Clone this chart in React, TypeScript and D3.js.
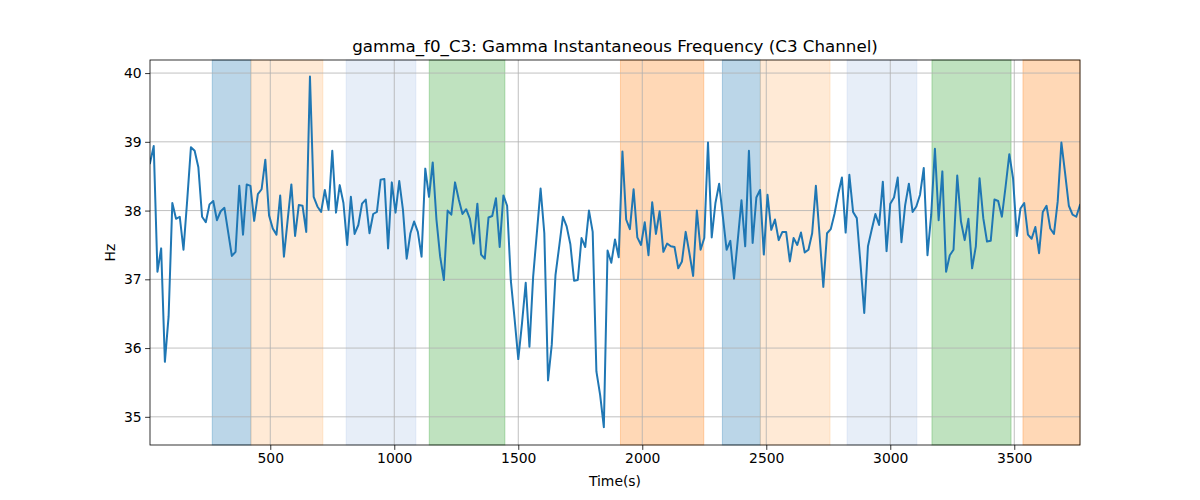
import React, { useEffect, useRef } from 'react';
import * as d3 from 'd3';

// sample times (s), one every 15 s
const times: number[] = d3.range(15, 3766, 15);

// gamma instantaneous frequency (Hz)
const freq: number[] = [
  38.69, 38.94, 37.11, 37.45, 35.80, 36.46, 38.11, 37.88, 37.91, 37.43,
  38.15, 38.92, 38.87, 38.63, 37.91, 37.83, 38.09, 38.14, 37.86, 37.99,
  38.04, 37.69, 37.34, 37.40, 38.36, 37.65, 38.38, 38.36, 37.85, 38.24,
  38.31, 38.74, 37.93, 37.74, 37.65, 38.22, 37.33, 37.86, 38.38, 37.63,
  38.08, 38.07, 37.69, 39.95, 38.20, 38.06, 37.98, 38.30, 38.01, 38.87,
  37.97, 38.37, 38.11, 37.50, 38.20, 37.66, 37.79, 38.10, 38.16, 37.67,
  37.95, 37.98, 38.45, 38.46, 37.45, 38.41, 37.97, 38.43, 38.01, 37.30,
  37.67, 37.84, 37.69, 37.33, 38.61, 38.20, 38.70, 37.87, 37.33, 36.99,
  38.00, 37.94, 38.41, 38.16, 37.95, 38.02, 37.88, 37.52, 38.10, 37.36,
  37.30, 37.90, 37.92, 38.18, 37.47, 38.22, 38.07, 36.98, 36.43, 35.84,
  36.36, 36.95, 36.02, 37.04, 37.68, 38.32, 37.67, 35.53, 36.05, 37.06,
  37.48, 37.91, 37.77, 37.51, 36.98, 36.99, 37.60, 37.47, 38.00, 37.69,
  35.66, 35.32, 34.85, 37.42, 37.24, 37.58, 37.32, 38.86, 37.87, 37.73,
  38.31, 37.61, 37.50, 37.83, 37.35, 38.12, 37.66, 37.99, 37.40, 37.52,
  37.48, 37.47, 37.16, 37.26, 37.69, 37.38, 37.05, 38.00, 37.43, 37.60,
  38.99, 37.61, 38.11, 38.39, 37.91, 37.43, 37.56, 37.01, 37.57, 38.15,
  37.48, 38.87, 37.53, 38.19, 38.30, 37.36, 38.23, 37.72, 37.87, 37.57,
  37.69, 37.69, 37.26, 37.60, 37.50, 37.68, 37.39, 37.43, 37.67, 38.36,
  37.63, 36.89, 37.67, 37.73, 37.95, 38.24, 38.48, 37.68, 38.52, 37.98,
  37.89, 37.22, 36.51, 37.48, 37.72, 37.95, 37.79, 38.42, 37.41, 38.10,
  38.19, 38.48, 37.54, 38.08, 38.39, 37.98, 38.06, 38.23, 38.62, 37.35,
  37.94, 38.90, 37.86, 38.57, 37.11, 37.35, 37.43, 38.51, 37.84, 37.57,
  37.88, 37.16, 37.48, 38.47, 37.89, 37.55, 37.56, 38.16, 38.14, 37.91,
  38.35, 38.82, 38.47, 37.63, 38.03, 38.11, 37.65, 37.59, 37.76, 37.38,
  37.98, 38.07, 37.74, 37.66, 38.13, 38.99, 38.54, 38.07, 37.94, 37.91,
  38.08,
];

// shaded intervals: start, end (s) and colour
const spanStart: number[] = [266, 422, 806, 1141, 1912, 2323, 2476, 2826, 3168, 3535];
const spanEnd: number[] = [422, 712, 1087, 1446, 2248, 2476, 2757, 3107, 3487, 3765];
const spanColor: string[] = [
  '#1f77b4', '#ffbb78', '#aec7e8', '#2ca02c', '#ff7f0e',
  '#1f77b4', '#ffbb78', '#aec7e8', '#2ca02c', '#ff7f0e',
];

const xTicks: number[] = [500, 1000, 1500, 2000, 2500, 3000, 3500];
const yTicks: number[] = [35, 36, 37, 38, 39, 40];

const App: React.FC = () => {
  const svgRef = useRef<SVGSVGElement>(null);

  useEffect(() => {
    if (!svgRef.current) return;

    const width = 1200;
    const height = 500;
    const margin = { top: 60, right: 120, bottom: 55, left: 150 };
    const font = 'DejaVu Sans, sans-serif';

    const svg = d3.select(svgRef.current);
    svg.selectAll('*').remove();
    svg.attr('width', width).attr('height', height);

    svg.append('rect').attr('width', width).attr('height', height).attr('fill', '#fff');

    const x = d3.scaleLinear()
      .domain([15, 3765])
      .range([margin.left, width - margin.right]);
    const y = d3.scaleLinear()
      .domain([34.59, 40.19])
      .range([height - margin.bottom, margin.top]);

    const g = svg.append('g');

    // shaded spans
    g.selectAll('.span')
      .data(spanStart)
      .enter()
      .append('rect')
      .attr('x', d => x(d))
      .attr('y', margin.top)
      .attr('width', (d, i) => x(spanEnd[i]) - x(d))
      .attr('height', height - margin.bottom - margin.top)
      .attr('fill', (d, i) => spanColor[i])
      .attr('fill-opacity', 0.3)
      .attr('stroke', (d, i) => spanColor[i])
      .attr('stroke-opacity', 0.3)
      .attr('stroke-width', 1);

    // grid
    g.selectAll('.gx')
      .data(xTicks)
      .enter()
      .append('line')
      .attr('x1', d => x(d)).attr('x2', d => x(d))
      .attr('y1', margin.top).attr('y2', height - margin.bottom)
      .style('stroke', '#b0b0b0')
      .style('stroke-width', '0.8px');
    g.selectAll('.gy')
      .data(yTicks)
      .enter()
      .append('line')
      .attr('x1', margin.left).attr('x2', width - margin.right)
      .attr('y1', d => y(d)).attr('y2', d => y(d))
      .style('stroke', '#b0b0b0')
      .style('stroke-width', '0.8px');

    // data line
    const line = d3.line<number>()
      .x((d, i) => x(times[i]))
      .y(d => y(d));

    svg.append('defs').append('clipPath').attr('id', 'plotClip')
      .append('rect')
      .attr('x', margin.left).attr('y', margin.top)
      .attr('width', width - margin.left - margin.right)
      .attr('height', height - margin.top - margin.bottom);

    g.append('path')
      .attr('d', line(freq) || '')
      .attr('clip-path', 'url(#plotClip)')
      .style('fill', 'none')
      .style('stroke', '#1f77b4')
      .style('stroke-width', '2px')
      .style('stroke-linejoin', 'round')
      .style('stroke-linecap', 'square');

    // axes
    const xAxis = d3.axisBottom(x).tickValues(xTicks).tickSize(4.9).tickPadding(3.5).tickFormat(d3.format('d'));
    const yAxis = d3.axisLeft(y).tickValues(yTicks).tickSize(4.9).tickPadding(3.5).tickFormat(d3.format('d'));

    const gx = svg.append('g')
      .attr('transform', `translate(0,${height - margin.bottom})`)
      .call(xAxis);
    const gy = svg.append('g')
      .attr('transform', `translate(${margin.left},0)`)
      .call(yAxis);

    [gx, gy].forEach(a => {
      a.select('.domain').remove();
      a.selectAll('.tick line').style('stroke', '#000').style('stroke-width', '0.8px');
      a.selectAll('.tick text')
        .style('font-family', font)
        .style('font-size', '13.9px')
        .style('fill', '#000');
    });

    // spines
    svg.append('rect')
      .attr('x', margin.left).attr('y', margin.top)
      .attr('width', width - margin.left - margin.right)
      .attr('height', height - margin.top - margin.bottom)
      .style('fill', 'none')
      .style('stroke', '#000')
      .style('stroke-width', '0.8px');

    // labels
    svg.append('text')
      .attr('x', (margin.left + width - margin.right) / 2)
      .attr('y', 52)
      .attr('text-anchor', 'middle')
      .style('font-family', font)
      .style('font-size', '16.7px')
      .text('gamma_f0_C3: Gamma Instantaneous Frequency (C3 Channel)');

    svg.append('text')
      .attr('x', (margin.left + width - margin.right) / 2)
      .attr('y', 486)
      .attr('text-anchor', 'middle')
      .style('font-family', font)
      .style('font-size', '13.9px')
      .text('Time(s)');

    svg.append('text')
      .attr('transform', `translate(115,${(margin.top + height - margin.bottom) / 2}) rotate(-90)`)
      .attr('text-anchor', 'middle')
      .style('font-family', font)
      .style('font-size', '13.9px')
      .text('Hz');
  }, []);

  return (
    <div style={{ position: 'absolute', left: 0, top: 0 }}>
      <svg ref={svgRef} />
    </div>
  );
};

export default App;
